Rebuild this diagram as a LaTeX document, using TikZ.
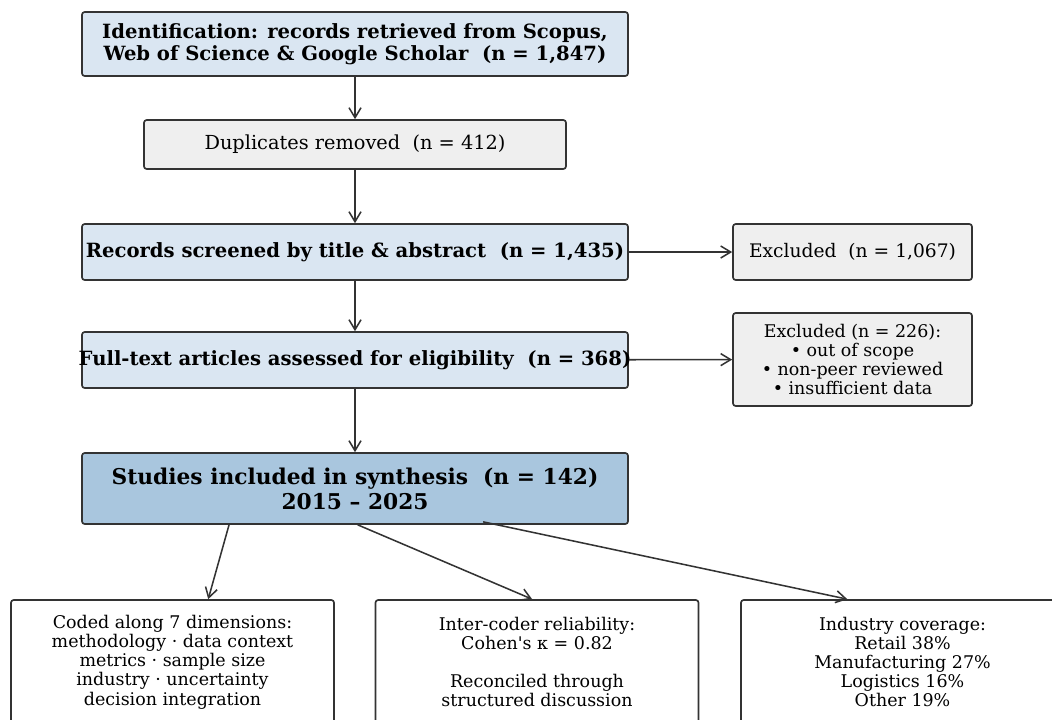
\documentclass[tikz,border=0pt]{standalone}
\usepackage{fontspec}
\setmainfont{DejaVu Serif}
\usetikzlibrary{positioning,arrows.meta,calc}
\definecolor{idblue}{HTML}{DAE6F2}
\definecolor{exgray}{HTML}{EFEFEF}
\definecolor{synblue}{HTML}{A9C6DE}
\definecolor{edgegray}{HTML}{333333}
\tikzset{
  box/.style={draw=edgegray,line width=1.25pt,rounded corners=2pt,align=center,inner sep=0pt},
  stagebox/.style={box,fill=idblue,minimum width=409.5pt,font=\bfseries\fontsize{14.7}{16.5}\selectfont},
  exbox/.style={box,fill=exgray,font=\fontsize{14}{14.4}\selectfont},
  codebox/.style={box,fill=white,minimum width=242.25pt,minimum height=93pt,font=\fontsize{13.1}{14.4}\selectfont},
  flow/.style={->,draw=edgegray,line width=1.15pt}
}

\begin{document}
\begin{tikzpicture}[x=0.75pt,y=-0.75pt,>={Straight Barb[length=7.5pt,width=9pt]}]
  \useasboundingbox (0,0) rectangle (1052,719);
  \clip (0,0) rectangle (1052,719);
  \fill[white] (0,0) rectangle (1052,719);

  \draw (355,44) node[stagebox,minimum height=48pt] (ident)
    {Identification: records retrieved from Scopus,\\Web of Science \& Google Scholar~~(n = 1,847)};
  \draw (355,144.5) node[exbox,minimum width=316.5pt,minimum height=36.75pt,font=\fontsize{14.5}{14.4}\selectfont] (dup)
    {Duplicates removed~~(n = 412)};
  \draw (355,252) node[stagebox,minimum height=42pt] (screen)
    {\makebox[409.5pt]{Records screened by title \& abstract~~(n = 1,435)}};
  \draw (852.5,252) node[exbox,minimum width=179.25pt,minimum height=42pt] (excl1)
    {Excluded~~(n = 1,067)};
  \draw (355,360) node[stagebox,minimum height=42pt] (full)
    {\makebox[409.5pt]{Full-text articles assessed for eligibility~~(n = 368)}};
  \draw (852.5,359.5) node[exbox,minimum width=179.25pt,minimum height=69.75pt,font=\fontsize{13.1}{14.4}\selectfont] (excl2)
    {Excluded (n = 226):\\• out of scope\\• non-peer reviewed\\• insufficient data};
  \draw (355,488.5) node[stagebox,fill=synblue,minimum height=53.25pt,font=\bfseries\fontsize{16.3}{18.75}\selectfont] (syn)
    {Studies included in synthesis~~(n = 142)\\2015 -- 2025};

  \draw (172.5,662) node[codebox] (dims)
    {Coded along 7 dimensions:\\methodology · data context\\metrics · sample size\\industry · uncertainty\\decision integration};
  \draw (537,662) node[codebox] (icr)
    {Inter-coder reliability:\\Cohen\textquotesingle s κ = 0.82\\[14.4pt]Reconciled through\\structured discussion};
  \draw (902.5,662) node[codebox] (ind)
    {Industry coverage:\\Retail 38\%\\Manufacturing 27\%\\Logistics 16\%\\Other 19\%};

  \draw[flow] (ident) -- (dup);
  \draw[flow] (dup) -- (screen);
  \draw[flow] (screen) -- (full);
  \draw[flow] (full) -- (syn);
  \draw[flow] (screen) -- (excl1);
  \draw[flow] (full) -- (excl2);

  \draw[flow] ($(syn.south west)!0.27!(syn.south east)$) -- ($(dims.north west)!0.61!(dims.north east)$);
  \draw[flow] ($(syn.south west)!0.505!(syn.south east)$) -- ($(icr.north west)!0.485!(icr.north east)$);
  \draw[flow] ($(syn.south west)!0.734!(syn.south east)+(0,-3)$) -- ($(ind.north west)!0.33!(ind.north east)$);
\end{tikzpicture}
\end{document}
